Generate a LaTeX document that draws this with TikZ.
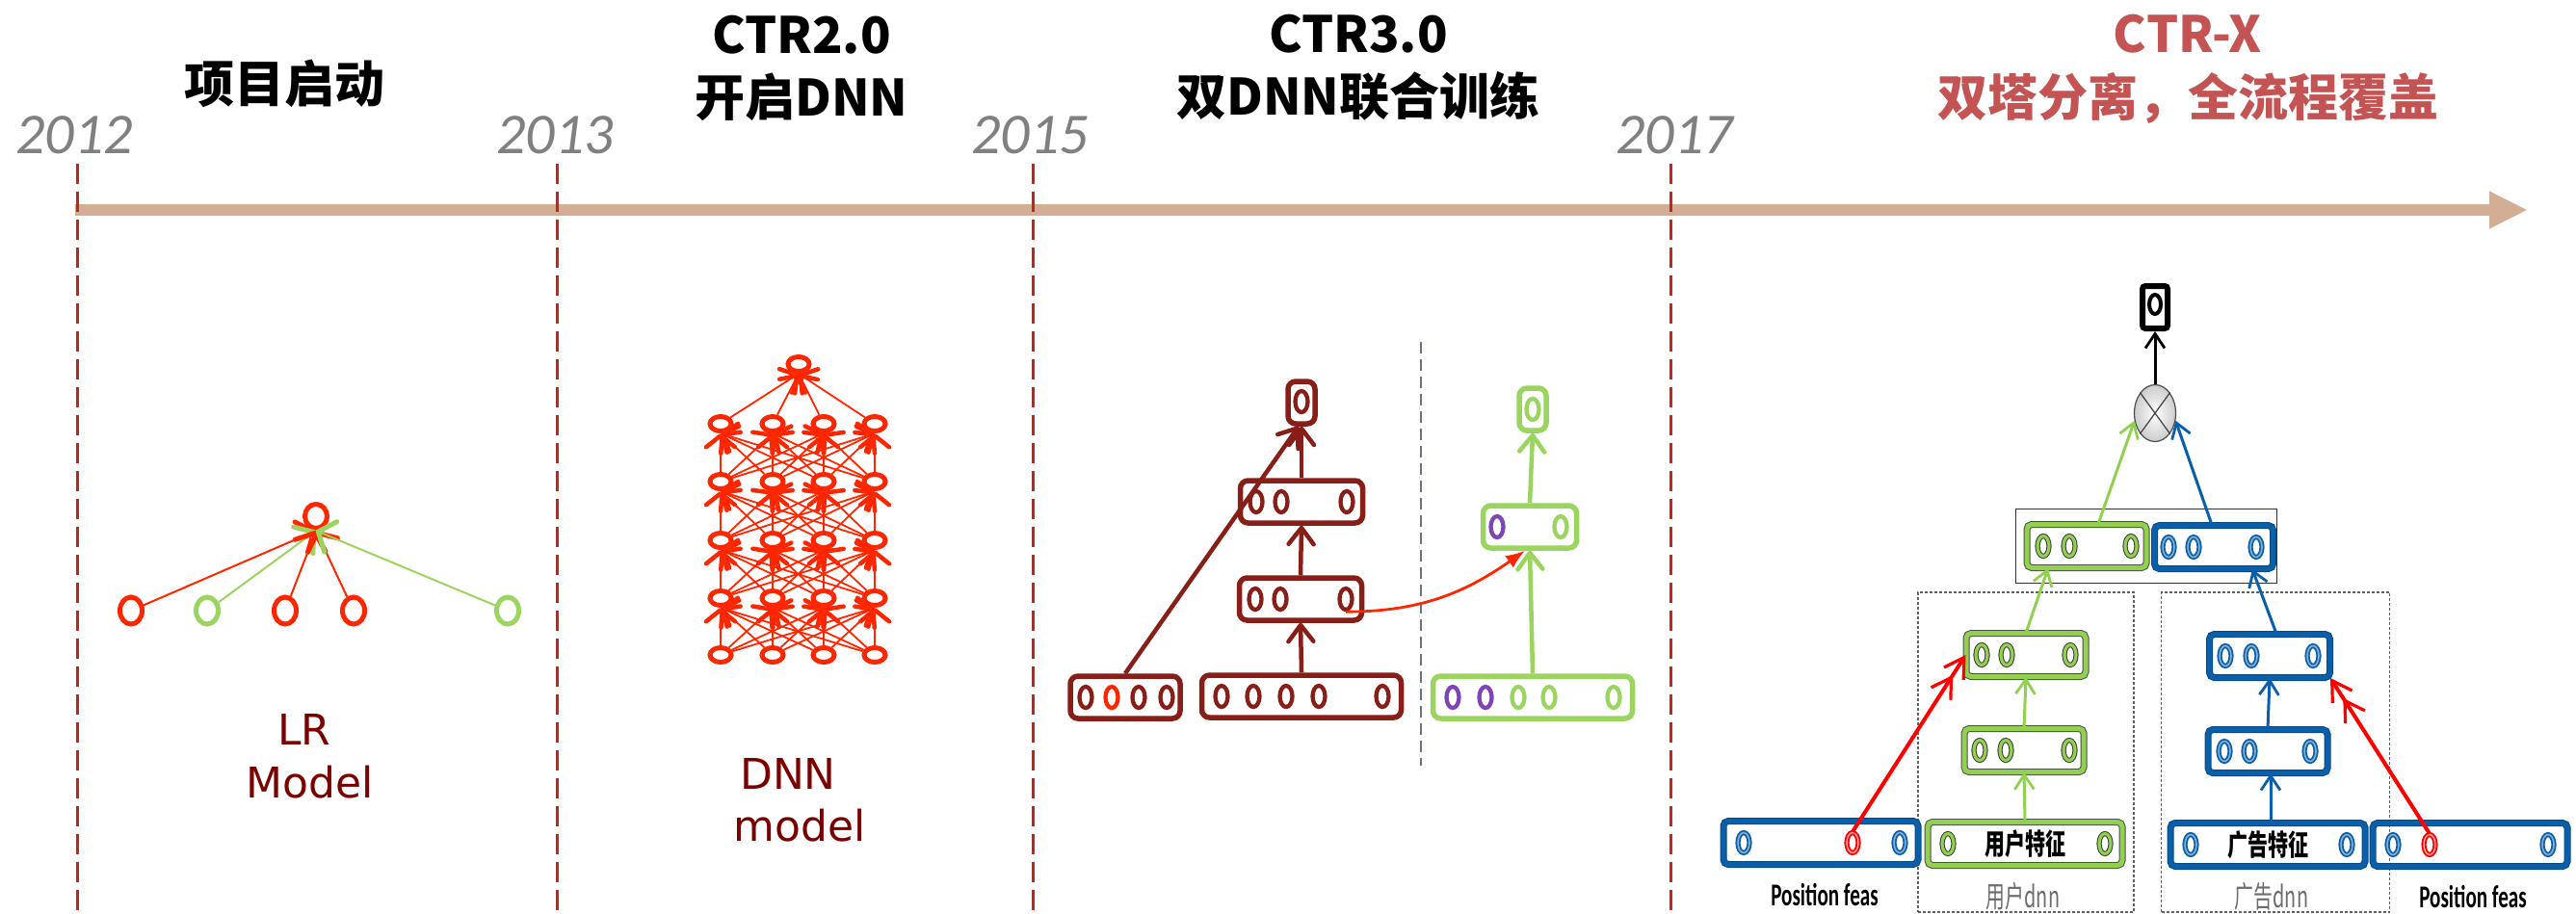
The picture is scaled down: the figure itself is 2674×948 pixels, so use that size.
\documentclass[tikz,border=0pt]{standalone}
\usepackage{fontspec}
\usepackage{graphicx}
\usetikzlibrary{arrows.meta,shapes.geometric}
\setmainfont{Carlito}
\newfontfamily\cjk{Noto Sans CJK SC}
\newfontfamily\dvs{DejaVu Sans}
\definecolor{tlcol}{RGB}{212,174,148}
\definecolor{yrline}{RGB}{192,38,26}
\definecolor{yrgray}{RGB}{128,128,128}
\definecolor{ctrxred}{RGB}{196,84,84}
\definecolor{nnred}{RGB}{255,38,0}
\definecolor{nngreen}{RGB}{155,212,95}
\definecolor{lrtextcol}{RGB}{122,0,0}
\definecolor{cbrown}{RGB}{135,30,24}
\definecolor{cpurple}{RGB}{125,70,180}
\definecolor{cgray}{RGB}{110,114,122}
\definecolor{xblue}{RGB}{10,95,170}
\definecolor{xgreen}{RGB}{146,208,80}
\begin{document}
\begin{tikzpicture}[x=1pt,y=-1pt,
  titletext/.style={font=\cjk\bfseries\fontsize{52}{60}\selectfont, inner sep=0pt},
  yeartext/.style={font=\itshape\fontsize{60}{66}\selectfont, text=yrgray, inner sep=0pt},
  yearline/.style={yrline, line width=3pt, dash pattern=on 21pt off 8pt},
  modeltext/.style={font=\dvs\fontsize{44}{50}\selectfont, text=lrtextcol, inner sep=0pt},
  lrnode/.style={ellipse, line width=5pt, inner sep=0pt, minimum width=23pt, minimum height=28pt},
  lrarrow/.style={line width=2pt, -{Straight Barb[length=14pt,width=34pt,line width=5pt,round]}},
  dnnnode/.style={ellipse, draw=nnred, line width=5pt, inner sep=0pt, minimum width=22pt, minimum height=15pt},
  dnnarrow/.style={nnred, line width=1.8pt, -{Straight Barb[length=12pt,width=30pt,line width=4.5pt,round]}},
  cbox/.style={rounded corners=8pt, line width=5.5pt, inner sep=0pt, minimum height=44pt},
  cell/.style={ellipse, line width=4.3pt, inner sep=0pt, minimum width=13pt, minimum height=22pt},
  carrow/.style={line width=4.5pt, -{Straight Barb[length=17pt,width=26pt,line width=4.5pt,round]}},
  xbox/.style={rounded corners=5pt, inner sep=0pt, minimum height=45pt, line width=1pt, double distance=5pt},
  xgbox/.style={xbox, draw=gray!60!black, double=xgreen},
  xbbox/.style={xbox, draw=xblue!75!black, double=xblue},
  xell/.style={ellipse, inner sep=0pt, minimum width=12pt, minimum height=21pt},
  xgell/.style={xell, draw=gray!45!black, double=xgreen, line width=1pt, double distance=3.2pt},
  xbell/.style={xell, draw=xblue, double=xblue!50, line width=1.8pt, double distance=1.6pt},
  xrell/.style={xell, draw=red, double=red!35, line width=1.9pt, double distance=1.4pt},
  xarrow/.style={line width=3pt, -{Straight Barb[length=15pt,width=20pt,line width=2.8pt]}},
  xredarrow/.style={red, line width=4pt, -{Straight Barb[length=20pt,width=24pt,line width=3.2pt] Straight Barb[length=20pt,width=24pt,line width=3.2pt]}},
  dashbox/.style={draw=gray!75!black, line width=1.1pt, dash pattern=on 3pt off 2pt, inner sep=0pt},
  featext/.style={font=\cjk\bfseries\fontsize{30}{32}\selectfont},
  posfeas/.style={font=\bfseries\fontsize{33}{35}\selectfont, inner sep=0pt},
  dnnlab/.style={font=\cjk\fontsize{31}{33}\selectfont, text=gray!85!black, inner sep=0pt}
]
\path[use as bounding box, fill=white] (0,0) rectangle (2674,948);

% ---------------- timeline ----------------
\coordinate (tls) at (78,218);
\coordinate (tle) at (2624,218);
\draw[tlcol, line width=12pt, -{Triangle[length=40pt,width=36pt]}] (tls) -- (tle);

\foreach \x/\n in {80/a,578/b,1072/c,1734/d}{
  \coordinate (dt\n) at (\x,170);
  \coordinate (db\n) at (\x,948);
  \draw[yearline] (dt\n) -- (db\n);
}
\node[yeartext] (y2012) at (77,140) {2012};
\node[yeartext] (y2013) at (576,140) {2013};
\node[yeartext] (y2015) at (1069,140) {2015};
\node[yeartext] (y2017) at (1738,140) {2017};

\node[titletext] (t1) at (295,87) {项目启动};
\node[titletext] (t2a) at (832,36) {CTR2.0};
\node[titletext] (t2b) at (832,101) {开启DNN};
\node[titletext] (t3a) at (1410,35) {CTR3.0};
\node[titletext] (t3b) at (1410,100) {双DNN联合训练};
\node[titletext, text=ctrxred] (t4a) at (2271,35) {CTR-X};
\node[titletext, text=ctrxred] (t4b) at (2271,102) {双塔分离，全流程覆盖};

% ---------------- LR model ----------------
\node[lrnode, draw=nnred, minimum height=25pt] (lrtop) at (328,536) {};
\node[lrnode, draw=nnred] (lr1) at (136,634) {};
\node[lrnode, draw=nngreen] (lr2) at (215,634) {};
\node[lrnode, draw=nnred] (lr3) at (296,634) {};
\node[lrnode, draw=nnred] (lr4) at (367,634) {};
\node[lrnode, draw=nngreen] (lr5) at (527,634) {};
\draw[lrarrow, nnred] (lr1) -- (lrtop.south);
\draw[lrarrow, nngreen] (lr2) -- (lrtop.south);
\draw[lrarrow, nnred] (lr3) -- (lrtop.south);
\draw[lrarrow, nnred] (lr4) -- (lrtop.south);
\draw[lrarrow, nngreen] (lr5) -- (lrtop.south);
\node[modeltext] (lrlab1) at (316,757) {LR};
\node[modeltext] (lrlab2) at (322,812) {Model};

% ---------------- DNN ----------------
\node[dnnnode] (ntop) at (829,378) {};
\foreach \r/\y in {1/680,2/621,3/561,4/500,5/440}
  \foreach \c/\x in {1/748,2/802,3/855,4/908}
    \node[dnnnode] (n\r\c) at (\x,\y) {};
\foreach \r/\rr in {1/2,2/3,3/4,4/5}
  \foreach \i in {1,...,4}
    \foreach \j in {1,...,4}
      \draw[dnnarrow] (n\r\i) -- (n\rr\j.south);
\foreach \i in {1,...,4}
  \draw[dnnarrow] (n5\i) -- (ntop.south);
\node[modeltext] (dnnlab1) at (818,803) {DNN};
\node[modeltext] (dnnlab2) at (830,857) {model};

% ---------------- CTR3.0 ----------------
\coordinate (gdt) at (1475,355);
\coordinate (gdb) at (1475,795);
\draw[cgray, line width=2.5pt, dash pattern=on 12pt off 6pt] (gdt) -- (gdb);

\node[cbox, draw=cbrown, minimum width=28pt] (B0) at (1351,418) {};
\node[cell, draw=cbrown] (B0a) at (1351,417) {};
\node[cbox, draw=cbrown, minimum width=127pt] (B2) at (1351,521) {};
\foreach \dx/\nm in {-47/a,-21/b,47/c}
  \node[cell, draw=cbrown] (B2\nm) at ([xshift=\dx pt]B2.center) {};
\node[cbox, draw=cbrown, minimum width=127pt] (B1) at (1350,622) {};
\foreach \dx/\nm in {-47/a,-21/b,47/c}
  \node[cell, draw=cbrown] (B1\nm) at ([xshift=\dx pt]B1.center) {};
\node[cbox, draw=cbrown, minimum width=114pt] (BL) at (1168,724) {};
\foreach \dx/\nm/\cl in {-41/a/cbrown,-14/b/nnred,14/c/cbrown,43/d/cbrown}
  \node[cell, draw=\cl] (BL\nm) at ([xshift=\dx pt]BL.center) {};
\node[cbox, draw=cbrown, minimum width=207pt] (BM) at (1351,723) {};
\foreach \dx/\nm in {-83/a,-50/b,-16/c,18/d,84/e}
  \node[cell, draw=cbrown] (BM\nm) at ([xshift=\dx pt]BM.center) {};

\node[cbox, draw=nngreen, minimum width=28pt] (G0) at (1591,425) {};
\node[cell, draw=nngreen] (G0a) at (1591,425) {};
\node[cbox, draw=nngreen, minimum width=97pt] (G1) at (1588,547) {};
\node[cell, draw=cpurple] (G1a) at ([xshift=-34pt]G1.center) {};
\node[cell, draw=nngreen] (G1b) at ([xshift=32pt]G1.center) {};
\node[cbox, draw=nngreen, minimum width=207pt] (GB) at (1591,724) {};
\foreach \dx/\nm/\cl in {-83/a/cpurple,-49/b/cpurple,-15/c/nngreen,17/d/nngreen,84/e/nngreen}
  \node[cell, draw=\cl] (GB\nm) at ([xshift=\dx pt]GB.center) {};

\draw[carrow, cbrown] (BM.north) -- (B1.south);
\draw[carrow, cbrown] (B1.north) -- (B2.south);
\draw[carrow, cbrown] (B2.north) -- (B0.south);
\draw[carrow, cbrown] (BL.north) -- ([xshift=-3pt]B0.south);
\draw[carrow, nngreen] (GB.north) -- (G1.south);
\draw[carrow, nngreen] (G1.north) -- (G0.south);
\draw[nnred, line width=2.8pt, -{Latex[length=20pt,width=15pt]}] (B1c.south) to[out=0,in=215] ([xshift=-5pt]G1.south);

% ---------------- CTR-X ----------------
\node[dashbox, minimum width=224pt, minimum height=332pt] (UD) at (2103,781) {};
\node[dashbox, minimum width=237pt, minimum height=332pt] (AD) at (2362,781) {};
\node[draw=gray!40!black, line width=1.3pt, minimum width=271pt, minimum height=77pt, inner sep=0pt] (CAT) at (2228,567) {};

\node[draw=black, line width=6pt, rounded corners=3pt, minimum width=26pt, minimum height=44pt, inner sep=0pt] (OUT) at (2237,319) {};
\node[ellipse, draw=black, line width=4pt, minimum width=12pt, minimum height=20pt, inner sep=0pt] (OUTa) at (2237,316) {};
\node[ellipse, draw=gray!60!black, line width=1.2pt, inner color=white, outer color=gray!40, minimum width=43pt, minimum height=59pt, inner sep=0pt] (MUL) at (2237,429) {};
\draw[gray!50!black, line width=1.2pt] (MUL.54) -- (MUL.234) (MUL.126) -- (MUL.306);

\node[xgbox, minimum width=124pt] (GC) at (2166,567) {};
\foreach \dx/\nm in {-45/a,-18/b,46/c}
  \node[xgell] (GC\nm) at ([xshift=\dx pt]GC.center) {};
\node[xbbox, minimum width=123pt] (BC) at (2298,568) {};
\foreach \dx/\nm in {-47/a,-21/b,44/c}
  \node[xbell] (BC\nm) at ([xshift=\dx pt]BC.center) {};

\node[xgbox, minimum width=124pt] (XG2) at (2103,680) {};
\foreach \dx/\nm in {-46/a,-20/b,46/c}
  \node[xgell] (XG2\nm) at ([xshift=\dx pt]XG2.center) {};
\node[xgbox, minimum width=124pt] (XG1) at (2101,779) {};
\foreach \dx/\nm in {-46/a,-19/b,47/c}
  \node[xgell] (XG1\nm) at ([xshift=\dx pt]XG1.center) {};
\node[xgbox, minimum width=202pt, featext] (XGU) at (2102,876) {\scalebox{0.7}[1]{用户特征}};
\node[xgell] (XGUa) at ([xshift=-80pt]XGU.center) {};
\node[xgell] (XGUb) at ([xshift=83pt]XGU.center) {};

\node[xbbox, minimum width=125pt] (XB2) at (2356,681) {};
\foreach \dx/\nm in {-46/a,-19/b,45/c}
  \node[xbell] (XB2\nm) at ([xshift=\dx pt]XB2.center) {};
\node[xbbox, minimum width=124pt] (XB1) at (2354,780) {};
\foreach \dx/\nm in {-45/a,-19/b,44/c}
  \node[xbell] (XB1\nm) at ([xshift=\dx pt]XB1.center) {};
\node[xbbox, minimum width=202pt, featext] (XBA) at (2354,877) {\scalebox{0.7}[1]{广告特征}};
\node[xbell] (XBAa) at ([xshift=-80pt]XBA.center) {};
\node[xbell] (XBAb) at ([xshift=82pt]XBA.center) {};

\node[xbbox, minimum width=202pt] (XPL) at (1890,875) {};
\node[xbell] (XPLa) at ([xshift=-80pt]XPL.center) {};
\node[xrell] (XPLr) at ([xshift=33pt]XPL.center) {};
\node[xbell] (XPLb) at ([xshift=82pt]XPL.center) {};
\node[xbbox, minimum width=202pt] (XPR) at (2564,877) {};
\node[xbell] (XPRa) at ([xshift=-80pt]XPR.center) {};
\node[xrell] (XPRr) at ([xshift=-42pt]XPR.center) {};
\node[xbell] (XPRb) at ([xshift=81pt]XPR.center) {};

\draw[xarrow, black] (MUL.north) -- (OUT.south);
\draw[xarrow, xgreen] ([xshift=12pt]GC.north) -- (MUL.200);
\draw[xarrow, xblue] ([xshift=-2pt]BC.north) -- (MUL.340);
\draw[xarrow, xgreen] (XGU.north) -- (XG1.south);
\draw[xarrow, xgreen] (XG1.north) -- (XG2.south);
\draw[xarrow, xgreen] (XG2.north) -- ([xshift=-40pt]GC.south);
\draw[xarrow, xblue] ([xshift=3pt]XBA.north) -- ([xshift=3pt]XB1.south);
\draw[xarrow, xblue] (XB1.north) -- (XB2.south);
\draw[xarrow, xblue] ([xshift=7pt]XB2.north) -- ([xshift=40pt]BC.south);
\draw[xredarrow] (XPLr.north) -- (XG2.west);
\draw[xredarrow] (XPRr.north) -- (XB2.south east);

\node[posfeas] (pl1) at (1894,929) {\scalebox{0.64}[1]{Position feas}};
\node[dnnlab] (ul) at (2100,931) {\scalebox{0.64}[1]{用户dnn}};
\node[dnnlab] (al) at (2358,931) {\scalebox{0.64}[1]{广告dnn}};
\node[posfeas] (pl2) at (2567,931) {\scalebox{0.64}[1]{Position feas}};
\end{tikzpicture}
\end{document}
